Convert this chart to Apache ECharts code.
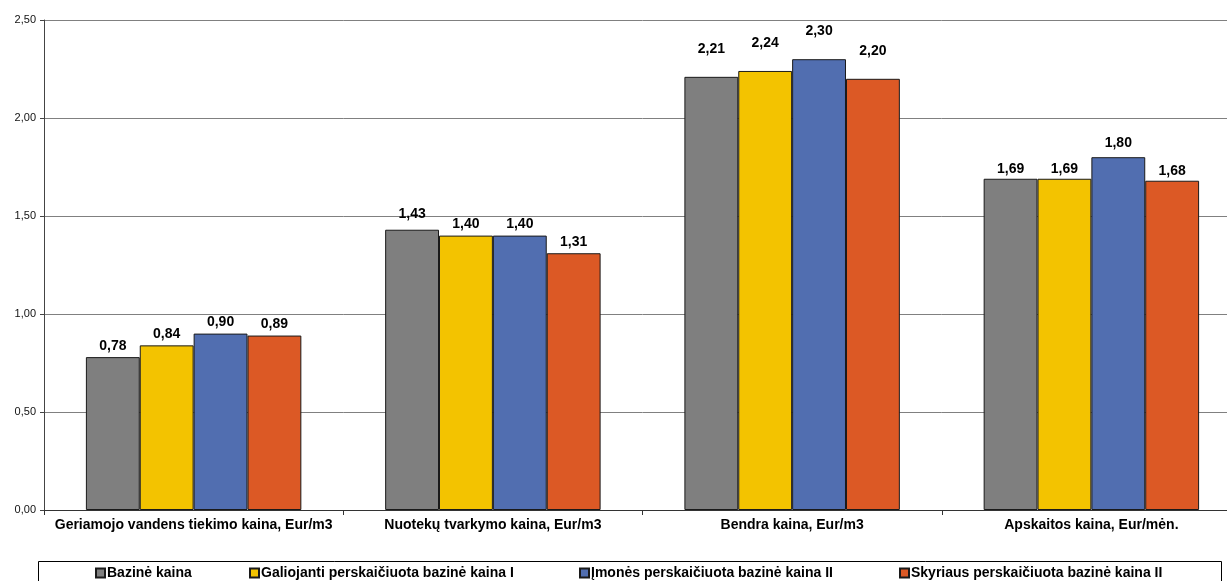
<!DOCTYPE html>
<html>
<head>
<meta charset="utf-8">
<script src="https://cdn.jsdelivr.net/npm/echarts@6/dist/echarts.min.js"></script>
<style>
html,body{margin:0;padding:0;background:#fff;overflow:hidden;width:1227px;height:581px;}
#chart{width:1243px;height:581px;}
</style>
</head>
<body>
<div id="chart"></div>
<script>
const categories = [
  'Geriamojo vandens tiekimo kaina, Eur/m3',
  'Nuotekų tvarkymo kaina, Eur/m3',
  'Bendra kaina, Eur/m3',
  'Apskaitos kaina, Eur/mėn.'
];
const seriesNames = [
  'Bazinė kaina',
  'Galiojanti perskaičiuota bazinė kaina I',
  'Įmonės perskaičiuota bazinė kaina II',
  'Skyriaus perskaičiuota bazinė kaina II'
];
const bazine = [0.78, 1.43, 2.21, 1.69];
const galiojanti = [0.84, 1.40, 2.24, 1.69];
const imones = [0.90, 1.40, 2.30, 1.80];
const skyriaus = [0.89, 1.31, 2.20, 1.68];
const yTicks = [0, 0.5, 1.0, 1.5, 2.0, 2.5];

// styles (kept apart from data)
const colors = ['#7F7F7F', '#F3C300', '#516EB0', '#DC5925'];
const legendLeft = [95, 249, 579, 899];
const labelDistance = [
  [4, 9, 21, 3],
  [4, 4, 21, 3],
  [4, 4, 21, 7],
  [4, 4, 21, 3]
];

const fmt = v => Number(v).toFixed(2).replace('.', ',');
const font = 'Liberation Sans, Arial, sans-serif';

const allData = [bazine, galiojanti, imones, skyriaus];
const series = allData.map((arr, si) => ({
  name: seriesNames[si],
  type: 'bar',
  barGap: '0%',
  barCategoryGap: '28%',
  itemStyle: { color: colors[si], borderColor: '#1a1a1a', borderWidth: 1 },
  label: {
    show: true, position: 'top', color: '#000', fontWeight: 'bold',
    fontSize: 14, fontFamily: font, formatter: p => fmt(p.value)
  },
  data: arr.map((v, ci) => ({ value: v, label: { distance: labelDistance[si][ci] } }))
}));

const chart = echarts.init(document.getElementById('chart'));
chart.setOption({
  animation: false,
  backgroundColor: '#fff',
  grid: { left: 44, right: 2, top: 20, bottom: 71, containLabel: false },
  xAxis: {
    type: 'category',
    data: categories,
    axisLine: { lineStyle: { color: '#333', width: 1 } },
    axisTick: { show: true, length: 5, lineStyle: { color: '#333' } },
    axisLabel: { color: '#000', fontWeight: 'bold', fontSize: 14, fontFamily: font, margin: 8, interval: 0 }
  },
  yAxis: {
    type: 'value',
    min: yTicks[0], max: yTicks[yTicks.length - 1], interval: 0.5,
    axisLine: { show: true, lineStyle: { color: '#444', width: 1 } },
    axisTick: { show: true, length: 4, lineStyle: { color: '#444' } },
    splitLine: { show: true, lineStyle: { color: '#808080', width: 1 } },
    axisLabel: { color: '#111', fontSize: 11, fontFamily: font, margin: 8, formatter: v => fmt(v) }
  },
  legend: seriesNames.map((n, i) => ({
    data: [n], left: legendLeft[i], top: 566, itemWidth: 9, itemHeight: 9, itemGap: 0,
    icon: 'rect', padding: 0,
    textStyle: { color: '#000', fontWeight: 'bold', fontSize: 14, fontFamily: font, padding: [0, 0, 0, -3] }
  })),
  graphic: [{
    type: 'rect', left: 36, top: 559,
    shape: { width: 1183, height: 40 },
    style: { fill: 'none', stroke: '#000', lineWidth: 1 }
  }],
  series: series
});
</script>
</body>
</html>
